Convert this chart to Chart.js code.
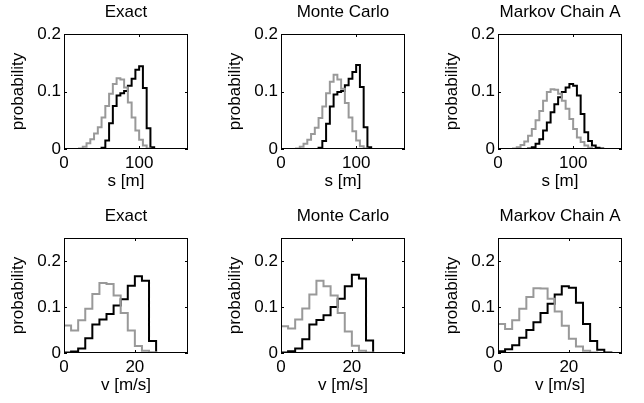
<!DOCTYPE html>
<html><head><meta charset="utf-8">
<script src="https://cdn.jsdelivr.net/npm/chart.js@4.4.0/dist/chart.umd.min.js"></script>
<style>
html,body{margin:0;padding:0;background:#fff;}
#wrap{position:relative;width:644px;height:403px;overflow:hidden;background:#fff;}
.p{position:absolute;width:200px;height:197px;}
canvas{display:block;}
</style></head><body>
<div id="wrap">
 <div class="p" style="left:0px;top:0px"><canvas id="c0" width="200" height="197"></canvas></div>
 <div class="p" style="left:217px;top:0px"><canvas id="c1" width="200" height="197"></canvas></div>
 <div class="p" style="left:434px;top:0px"><canvas id="c2" width="200" height="197"></canvas></div>
 <div class="p" style="left:0px;top:204px"><canvas id="c3" width="200" height="197"></canvas></div>
 <div class="p" style="left:217px;top:204px"><canvas id="c4" width="200" height="197"></canvas></div>
 <div class="p" style="left:434px;top:204px"><canvas id="c5" width="200" height="197"></canvas></div>
</div>
<script>
// ---- data ----
const panelTitles = ["Exact", "Monte Carlo", "Markov Chain A"];
const sTickLabels = [0, 100];
const vTickLabels = [0, 20];
const sProbTicks = [0, 0.1, 0.2];
const vProbTicks = [0, 0.1, 0.2];

// left edges of the position bins [m]
const sBins = [0,5,10,15,20,25,30,35,40,45,50,55,60,65,70,75,80,85,90,95,100,105,110,115,120,125,130,135,140,145,150,155,160];
// left edges of the speed bins [m/s]
const vBins = [0,2,4,6,8,10,12,14,16,18,20,22,24,26,28,30,32,34];

const exactSGray  = [0,0,0,0,0.001,0.004,0.010,0.017,0.027,0.038,0.055,0.075,0.096,0.113,0.123,0.121,0.107,0.081,0.055,0.032,0.016,0.006,0.001,0,0,0,0,0,0,0,0,0,0];
const exactSBlack = [0,0,0,0,0,0,0,0,0,0,0.002,0.015,0.045,0.075,0.093,0.097,0.101,0.110,0.122,0.138,0.144,0.106,0.036,0.003,0,0,0,0,0,0,0,0,0];
const mcSGray     = [0,0,0,0,0.001,0.004,0.009,0.016,0.026,0.037,0.054,0.074,0.097,0.117,0.129,0.121,0.105,0.080,0.055,0.031,0.015,0.005,0.001,0,0,0,0,0,0,0,0,0,0];
const mcSBlack    = [0,0,0,0,0,0,0,0,0,0,0.002,0.014,0.044,0.074,0.095,0.099,0.101,0.111,0.122,0.134,0.146,0.108,0.038,0.003,0,0,0,0,0,0,0,0,0];
const mcaSGray    = [0,0,0,0,0.001,0.003,0.007,0.013,0.023,0.035,0.050,0.066,0.084,0.099,0.104,0.103,0.096,0.084,0.070,0.052,0.035,0.020,0.012,0.006,0.002,0,0,0,0,0,0,0,0];
const mcaSBlack   = [0,0,0,0,0,0,0,0,0.001,0.003,0.009,0.017,0.032,0.046,0.064,0.078,0.090,0.099,0.107,0.113,0.110,0.093,0.061,0.029,0.014,0.006,0.002,0.001,0,0,0,0,0];

const exactVGray  = [0.060,0.049,0.071,0.096,0.128,0.152,0.150,0.125,0.087,0.049,0.015,0.005,0.0015,0,0,0,0,0];
const exactVBlack = [0.001,0.003,0.010,0.032,0.062,0.073,0.085,0.103,0.117,0.146,0.167,0.157,0.026,0,0,0,0,0];
const mcVGray     = [0.058,0.053,0.073,0.097,0.127,0.157,0.145,0.125,0.087,0.047,0.016,0.005,0.001,0,0,0,0,0];
const mcVBlack    = [0.001,0.004,0.010,0.030,0.062,0.072,0.082,0.100,0.118,0.145,0.170,0.162,0.027,0,0,0,0,0];
const mcaVGray    = [0.063,0.052,0.071,0.096,0.122,0.141,0.140,0.118,0.090,0.059,0.031,0.014,0.005,0.001,0,0,0,0];
const mcaVBlack   = [0.004,0.008,0.017,0.033,0.050,0.067,0.087,0.107,0.127,0.145,0.142,0.109,0.063,0.026,0.007,0.001,0,0];

// ---- drawing ----
const FONT = {family: "'Liberation Sans', Arial, Helvetica, sans-serif", size: 17, weight: 'normal', lineHeight: 1.2};
const GRAY = '#999999';

function stairs(bins, vals) {
  const w = bins[1] - bins[0];
  const pts = vals.map((v, i) => ({x: bins[i], y: v}));
  pts.push({x: bins[bins.length - 1] + w, y: vals[vals.length - 1]});
  return pts;
}

const boxPlugin = {
  id: 'matlabBox',
  afterDatasetsDraw(chart) {
    const {ctx, chartArea: a, scales: {x, y}} = chart;
    ctx.save();
    ctx.strokeStyle = '#000';
    ctx.lineWidth = 1;
    ctx.strokeRect(a.left + 0.5, a.top + 0.5, a.right - a.left - 1, a.bottom - a.top - 1);
    const L = 3;
    ctx.beginPath();
    x.ticks.forEach(t => {
      const px = Math.round(x.getPixelForValue(t.value)) + 0.5;
      ctx.moveTo(px, a.bottom); ctx.lineTo(px, a.bottom - L);
      ctx.moveTo(px, a.top); ctx.lineTo(px, a.top + L);
    });
    y.ticks.forEach(t => {
      const py = Math.round(y.getPixelForValue(t.value)) + 0.5;
      ctx.moveTo(a.left, py); ctx.lineTo(a.left + L, py);
      ctx.moveTo(a.right, py); ctx.lineTo(a.right - L, py);
    });
    ctx.stroke();
    ctx.restore();
  }
};

function makeChart(id, title, bins, gray, black, xMax, xTicks, yMax, yTicks, xTitle) {
  new Chart(document.getElementById(id), {
    type: 'line',
    data: {
      datasets: [
        {data: stairs(bins, gray), borderColor: GRAY, borderWidth: 2, pointRadius: 0, stepped: 'before', fill: false},
        {data: stairs(bins, black), borderColor: '#000', borderWidth: 2, pointRadius: 0, stepped: 'before', fill: false}
      ]
    },
    options: {
      responsive: false,
      devicePixelRatio: 1,
      animation: false,
      events: [],
      layout: {padding: {left: 0, top: 0, right: 12, bottom: 0}},
      plugins: {
        legend: {display: false},
        tooltip: {enabled: false},
        title: {display: true, text: title, fullSize: false, color: '#000', font: FONT, padding: {top: 2, bottom: 11.6}}
      },
      scales: {
        x: {
          type: 'linear', min: 0, max: xMax,
          afterBuildTicks: s => { s.ticks = xTicks.map(v => ({value: v})); },
          afterFit: s => { s.height = 48; },
          grid: {display: false, drawTicks: false},
          border: {display: false},
          ticks: {color: '#000', font: FONT, padding: 4, maxRotation: 0, autoSkip: false, callback: v => String(v)},
          title: {display: true, text: xTitle, color: '#000', font: FONT, padding: {top: 0, bottom: 5}}
        },
        y: {
          type: 'linear', min: 0, max: yMax,
          afterBuildTicks: s => { s.ticks = yTicks.map(v => ({value: v})); },
          afterFit: s => { s.width = 64; },
          grid: {display: false, drawTicks: false},
          border: {display: false},
          ticks: {color: '#000', font: FONT, padding: 3, autoSkip: false, callback: v => String(v)},
          title: {display: true, text: 'probability', color: '#000', font: FONT, padding: {top: 8, bottom: 0}}
        }
      }
    },
    plugins: [boxPlugin]
  });
}

makeChart('c0', panelTitles[0], sBins, exactSGray, exactSBlack, 165, sTickLabels, 0.2, sProbTicks, 's [m]');
makeChart('c1', panelTitles[1], sBins, mcSGray, mcSBlack, 165, sTickLabels, 0.2, sProbTicks, 's [m]');
makeChart('c2', panelTitles[2], sBins, mcaSGray, mcaSBlack, 165, sTickLabels, 0.2, sProbTicks, 's [m]');
makeChart('c3', panelTitles[0], vBins, exactVGray, exactVBlack, 35, vTickLabels, 0.25, vProbTicks, 'v [m/s]');
makeChart('c4', panelTitles[1], vBins, mcVGray, mcVBlack, 35, vTickLabels, 0.25, vProbTicks, 'v [m/s]');
makeChart('c5', panelTitles[2], vBins, mcaVGray, mcaVBlack, 35, vTickLabels, 0.25, vProbTicks, 'v [m/s]');
</script>
</body></html>
